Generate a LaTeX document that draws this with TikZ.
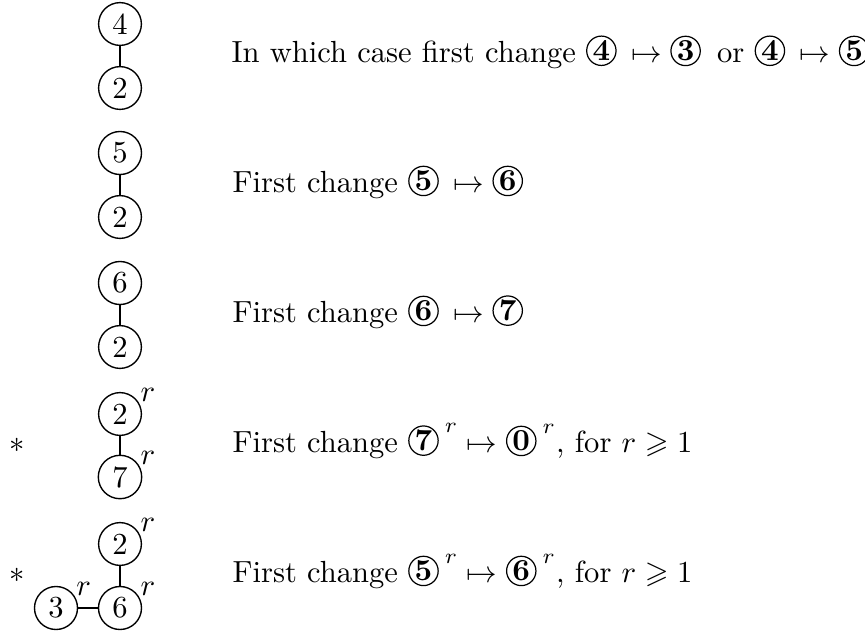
\documentclass[tikz,border=0pt]{standalone}
\usepackage{amssymb}
\tikzset{
  vtx/.style={circle,draw,line width=0.45pt,inner sep=2pt,minimum size=14pt},
  edg/.style={line width=0.7pt},
  desc/.style={anchor=base west,inner sep=0pt},
  starlbl/.style={anchor=base,inner sep=0pt},
  rl/.style={label={[anchor=base west,inner sep=0pt,xshift=9.1pt,yshift=6.4pt]center:$r$}},
}
\newcommand\cnum[1]{\mbox{\tikz[baseline={([yshift=-0.4pt]cnumtmp.base)}]\node[circle,draw,line width=0.4pt,inner sep=0pt,minimum size=9.6pt,font=\bfseries](cnumtmp){#1};\kern2pt}}
\begin{document}
\begin{tikzpicture}[x=0.3271pt,y=-0.3271pt]
\useasboundingbox (0,0) rectangle (865,632);
% row 1
\node[vtx] (a1) at (120,24) {4};
\node[vtx] (a2) at (120,88) {2};
\draw[edg] (a1) -- (a2);
\node[desc] (ta) at (231,62) {In which case first change $\cnum{4}\mapsto\cnum{3}$ or $\cnum{4}\mapsto\cnum{5}$};
% row 2
\node[vtx] (b1) at (120,153) {5};
\node[vtx] (b2) at (120,217) {2};
\draw[edg] (b1) -- (b2);
\node[desc] (tb) at (232,192) {First change $\cnum{5}\mapsto\cnum{6}$};
% row 3
\node[vtx] (c1) at (120,283) {6};
\node[vtx] (c2) at (120,347) {2};
\draw[edg] (c1) -- (c2);
\node[desc] (tc) at (232,322) {First change $\cnum{6}\mapsto\cnum{7}$};
% row 4
\node[starlbl] (sd) at (17,452) {$*$};
\node[vtx,rl] (d1) at (120,414) {2};
\node[vtx,rl] (d2) at (120,477) {7};
\draw[edg] (d1) -- (d2);
\node[desc] (td) at (232,452) {First change $\cnum{7}^r\mapsto\cnum{0}^r$, for $r\geqslant 1$};
% row 5
\node[starlbl] (se) at (17,582) {$*$};
\node[vtx,rl] (e1) at (120,544) {2};
\node[vtx,rl] (e2) at (120,608) {6};
\node[vtx,rl] (e3) at (56,608) {3};
\draw[edg] (e1) -- (e2);
\draw[edg] (e3) -- (e2);
\node[desc] (te) at (232,582) {First change $\cnum{5}^r\mapsto\cnum{6}^r$, for $r\geqslant 1$};
\end{tikzpicture}
\end{document}
